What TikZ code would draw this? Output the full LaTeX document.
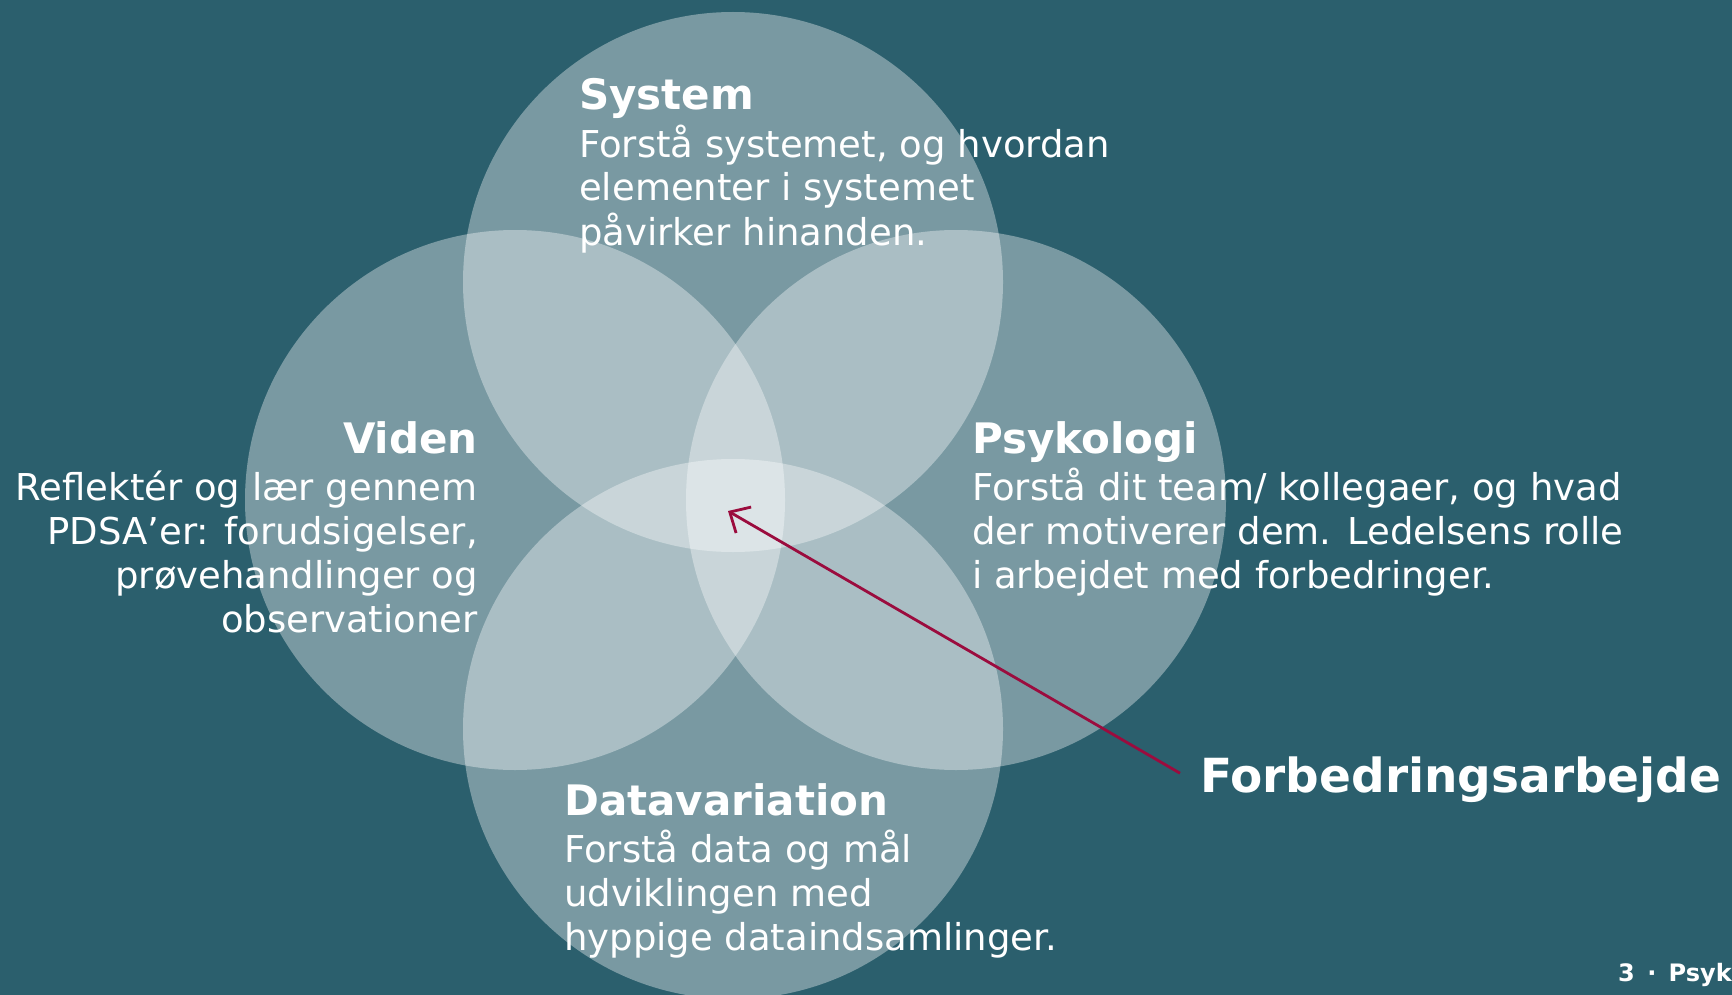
\documentclass[tikz,border=0pt]{standalone}
\usepackage{fontspec}
\setmainfont{DejaVu Sans}
\usetikzlibrary{arrows.meta}
\definecolor{petrol}{HTML}{2B5F6D}
\definecolor{crimson}{HTML}{9B0C3E}
\begin{document}
\begin{tikzpicture}[x=1pt,y=-1pt]
        \tikzstyle{ring}=[circle,fill=white,fill opacity=0.37,minimum size=540pt,inner sep=0pt]
        \tikzstyle{head}=[text=white,inner sep=0pt,font=\fontsize{42}{48}\selectfont\bfseries]
        \tikzstyle{body}=[text=white,inner sep=0pt,font=\fontsize{37}{44}\selectfont]
        \tikzstyle{pointer}=[draw=crimson,line width=2.8pt,-{Straight Barb[length=16pt,width=30pt,line width=2.8pt]}]
       \fill[petrol] (0,0) rectangle (1732,995);
       \clip (0,0) rectangle (1732,995);
       \begin{scope}
         \node [ring] (system) at (733,282) {};
         \node [ring] (viden) at (515,500) {};
         \node [ring] (psyk) at (956,500) {};
         \node [ring] (data) at (733,729) {};
       \end{scope}
       % labels (body nodes sit on the baseline of their last line)
       \node [head,anchor=base west] (systemhead) at (579,110) {System};
       \node [body,anchor=base west,align=left] (systemtext) at (579,245) {Forstå systemet, og hvordan\\elementer i systemet\\påvirker hinanden.};
       \node [head,anchor=base east] (videnhead) at (478,453) {Viden};
       \node [body,anchor=base east,align=right] (videntext) at (478,632) {Reflektér og lær gennem\\PDSA’er: forudsigelser,\\prøvehandlinger og\\observationer};
       \node [head,anchor=base west] (psykhead) at (972,453) {Psykologi};
       \node [body,anchor=base west,align=left] (psyktext) at (972,588) {Forstå dit team/ kollegaer, og hvad\\der motiverer dem. Ledelsens rolle\\i arbejdet med forbedringer.};
       \node [head,anchor=base west] (datahead) at (564,815) {Datavariation};
       \node [body,anchor=base west,align=left] (datatext) at (564,950) {Forstå data og mål\\udviklingen med\\hyppige dataindsamlinger.};
       \node [head,anchor=base west,font=\fontsize{47}{54}\selectfont\bfseries] (forbedring) at (1200,792) {Forbedringsarbejde};
       \node [text=white,anchor=base west,inner sep=0pt,font=\fontsize{24}{28}\selectfont\bfseries] (footer) at (1618,981) {3 \,·\, Psyk};
       \coordinate (core) at (728,511);
       \draw [pointer] (forbedring.west) ++(-20,-6) coordinate (tail) (tail) -- (core);
      \end{tikzpicture}
\end{document}
